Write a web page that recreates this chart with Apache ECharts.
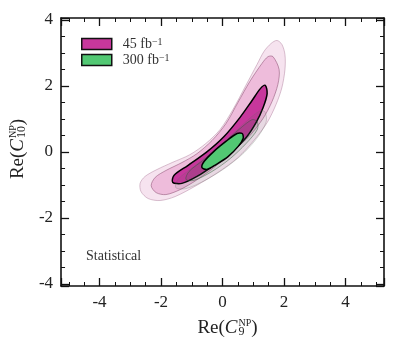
<!DOCTYPE html>
<html>
<head>
<meta charset="utf-8">
<script src="https://cdn.jsdelivr.net/npm/echarts@6/dist/echarts.min.js"></script>
<style>
  html, body { margin: 0; padding: 0; background: #fff; }
  #chart { width: 399px; height: 350px; }
</style>
</head>
<body>
<div id="chart"></div>
<script>
// axis ranges and tick labels
const xRange = [-5.25, 5.25]
const yRange = [-4.06, 4.06]
const tickStep = 2

// contour outlines, [Re C9, Re C10]
const c45_3sigma = [
  [1.58, 3.29], [1.77, 3.38], [1.93, 3.26], [2.03, 2.95], [2.03, 2.50], [1.93, 1.95],
  [1.74, 1.44], [1.45, 0.89], [1.02, 0.35], [0.50, -0.17], [-0.15, -0.62], [-0.86, -1.02],
  [-1.54, -1.35], [-2.03, -1.47], [-2.42, -1.41], [-2.65, -1.20], [-2.68, -0.95],
  [-2.52, -0.74], [-2.13, -0.53], [-1.64, -0.32], [-1.06, -0.08], [-0.54, 0.26],
  [-0.08, 0.68], [0.34, 1.29], [0.76, 2.02], [1.12, 2.65], [1.35, 3.05]
]
const c45_2sigma = [
  [1.64, 2.89], [1.84, 2.50], [1.80, 2.05], [1.61, 1.53], [1.32, 1.02], [0.89, 0.50],
  [0.37, 0.05], [-0.28, -0.47], [-0.86, -0.86], [-1.38, -1.14], [-1.84, -1.29],
  [-2.16, -1.23], [-2.32, -1.02], [-2.19, -0.77], [-1.84, -0.56], [-1.32, -0.32],
  [-0.83, -0.05], [-0.34, 0.35], [0.11, 0.86], [0.50, 1.50], [0.89, 2.14], [1.28, 2.68],
  [1.48, 2.89]
]
const c45_1sigma = [
  [1.39, 2.02], [1.45, 1.77], [1.32, 1.35], [1.09, 0.89], [0.77, 0.44], [0.31, 0.02],
  [-0.25, -0.38], [-0.83, -0.74], [-1.32, -0.95], [-1.62, -0.92], [-1.58, -0.71],
  [-1.13, -0.41], [-0.54, -0.02], [0.05, 0.47], [0.57, 1.05], [0.96, 1.56], [1.23, 1.92]
]
const c300_3sigma = [
  [1.39, 1.20], [1.42, 0.92], [1.16, 0.47], [0.70, -0.02], [0.11, -0.47], [-0.57, -0.86],
  [-1.19, -1.11], [-1.52, -1.08], [-1.45, -0.83], [-0.93, -0.44], [-0.28, 0.05],
  [0.38, 0.59], [0.96, 1.08], [1.26, 1.26]
]
const c300_2sigma = [
  [1.13, 0.92], [1.13, 0.68], [0.77, 0.26], [0.25, -0.20], [-0.34, -0.59], [-0.93, -0.86],
  [-1.19, -0.83], [-1.09, -0.59], [-0.60, -0.23], [-0.02, 0.23], [0.57, 0.71], [0.96, 0.98]
]
const c300_1sigma = [
  [0.64, 0.56], [0.67, 0.41], [0.51, 0.17], [0.18, -0.14], [-0.21, -0.38], [-0.51, -0.53],
  [-0.67, -0.47], [-0.60, -0.29], [-0.28, 0.02], [0.11, 0.32], [0.47, 0.56]
]

const legendNames = ['45', '300']
const serif = '"Liberation Serif", "DejaVu Serif", serif'

function contour(name, pts, fill, stroke, lw, z) {
  return {
    type: 'custom',
    name: name,
    data: pts,
    z: z,
    silent: true,
    clip: true,
    renderItem: (params, api) => {
      if (params.dataIndex !== 0) return null
      return {
        type: 'polygon',
        shape: { points: pts.map(p => api.coord(p)), smooth: 0.3 },
        style: { fill: fill, stroke: stroke, lineWidth: lw }
      }
    }
  }
}

const tickLabel = v => (Math.abs(v % tickStep) < 1e-9 ? String(v) : '')

// every token left-aligned so the zero-width subscript sits under the superscript
const nameRich = {
  n: { fontFamily: serif, fontSize: 19, lineHeight: 20, align: 'left', color: '#222' },
  i: { fontFamily: serif, fontSize: 19, fontStyle: 'italic', lineHeight: 20, align: 'left', color: '#222', padding: [0, 1, 0, 0] },
  sup: { fontFamily: serif, fontSize: 10, lineHeight: 12, verticalAlign: 'top', align: 'left', color: '#222' },
  sub: { fontFamily: serif, fontSize: 12, lineHeight: 12, verticalAlign: 'bottom', align: 'left', width: 0, color: '#222' }
}

const baseAxis = {
  minInterval: tickStep,
  maxInterval: tickStep,
  splitLine: { show: false },
  axisLine: { show: true, onZero: false, lineStyle: { color: '#111', width: 1.6 } },
  axisTick: { show: true, inside: true, length: 8, lineStyle: { color: '#111', width: 1.3 } },
  minorTick: { show: true, splitNumber: 4, length: 4, lineStyle: { color: '#111', width: 1 } },
}

const chart = echarts.init(document.getElementById('chart'), null, { renderer: 'canvas' })

chart.setOption({
  animation: false,
  grid: { left: 61, right: 15, top: 18, bottom: 64 },
  xAxis: [
    {
      ...baseAxis, type: 'value', min: xRange[0], max: xRange[1], position: 'bottom',
      axisLabel: { formatter: tickLabel, margin: 8, color: '#222', fontFamily: serif, fontSize: 17 },
      name: '{n|Re(}{i|C}{sub|9}{sup|NP}{n|)}',
      nameLocation: 'middle',
      nameGap: 32,
      nameTextStyle: { padding: [0, 0, 0, 10], rich: nameRich }
    },
    {
      ...baseAxis, type: 'value', min: xRange[0], max: xRange[1], position: 'top',
      axisLabel: { show: false }
    }
  ],
  yAxis: [
    {
      ...baseAxis, type: 'value', min: yRange[0], max: yRange[1], position: 'left',
      axisLabel: { formatter: tickLabel, margin: 8, color: '#222', fontFamily: serif, fontSize: 17 },
      name: '{n|Re(}{i|C}{sub|10}{sup|NP}{n|)}',
      nameLocation: 'middle',
      nameGap: 30,
      nameTextStyle: { padding: [0, 0, 0, 6], rich: nameRich }
    },
    {
      ...baseAxis, type: 'value', min: yRange[0], max: yRange[1], position: 'right',
      axisLabel: { show: false }
    }
  ],
  legend: {
    orient: 'vertical',
    left: 81,
    top: 37,
    padding: 0,
    itemGap: 2,
    itemWidth: 30,
    itemHeight: 11,
    icon: 'rect',
    selectedMode: false,
    data: [
      { name: legendNames[0], itemStyle: { color: '#c7379c', borderColor: '#111', borderWidth: 1.5 } },
      { name: legendNames[1], itemStyle: { color: '#52c873', borderColor: '#111', borderWidth: 1.5 } }
    ],
    formatter: name => '{n|' + name + ' fb}{s|−1}',
    textStyle: {
      padding: [0, 0, 0, 6],
      rich: {
        n: { fontFamily: serif, fontSize: 14, lineHeight: 14, color: '#333' },
        s: { fontFamily: serif, fontSize: 10, lineHeight: 9, verticalAlign: 'top', color: '#333' }
      }
    }
  },
  graphic: [
    {
      type: 'text', left: 86, top: 249,
      style: { text: 'Statistical', font: '14px ' + serif, fill: '#333' }
    }
  ],
  series: [
    contour('45 3sigma', c45_3sigma, '#f6e3ef', 'rgba(170,120,150,0.45)', 1, 1),
    contour('45 2sigma', c45_2sigma, '#eebcdb', 'rgba(140,80,115,0.55)', 1, 2),
    contour(legendNames[0], c45_1sigma, '#c7379c', '#000', 1.5, 3),
    contour('300 3sigma', c300_3sigma, 'rgba(80,100,85,0.08)', 'rgba(100,110,100,0.25)', 1, 4),
    contour('300 2sigma', c300_2sigma, 'rgba(60,100,70,0.12)', 'rgba(40,90,50,0.45)', 1, 5),
    contour(legendNames[1], c300_1sigma, '#52c873', '#000', 1.5, 6)
  ]
})
</script>
</body>
</html>
